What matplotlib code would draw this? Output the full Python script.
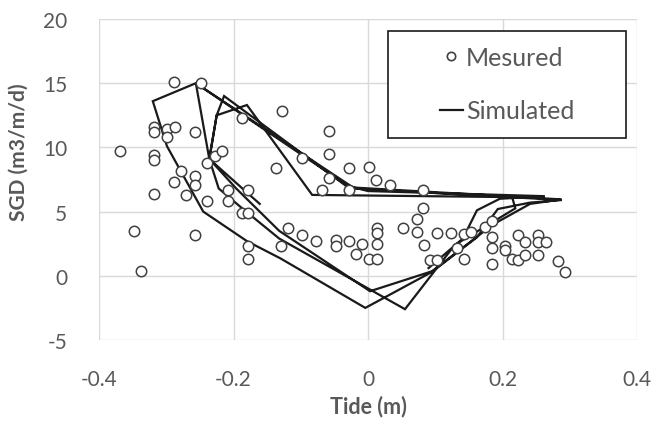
import matplotlib
matplotlib.use("Agg")
import matplotlib.pyplot as plt
from matplotlib.lines import Line2D
from matplotlib.patches import Rectangle

# Measured points (tide m, SGD m3/m/d)
meas_tide = [-0.288, -0.248, -0.318, -0.318, -0.299, -0.287, -0.299, -0.257, -0.369, -0.318,
             -0.318, -0.239, -0.227, -0.217, -0.278, -0.257, -0.257, -0.288, -0.137, -0.187,
             -0.318, -0.270, -0.208, -0.178, -0.239, -0.208, -0.187, -0.178, -0.348, -0.257,
             -0.178, -0.178, -0.338, -0.130, -0.128, -0.058, -0.058, -0.098, -0.028, 0.001,
             -0.058, 0.012, 0.033, -0.068, -0.028, 0.082, 0.082, 0.073, -0.119, -0.098,
             -0.077, -0.048, -0.048, -0.028, -0.009, -0.018, 0.001, 0.013, 0.013, 0.013,
             0.013, 0.052, 0.073, 0.083, 0.103, 0.123, 0.092, 0.103, 0.143, 0.153,
             0.132, 0.143, 0.174, 0.184, 0.184, 0.184, 0.184, 0.204, 0.204, 0.214,
             0.223, 0.223, 0.233, 0.233, 0.253, 0.253, 0.265, 0.253, 0.283, 0.293]
meas_sgd = [15.1, 15.0, 11.6, 11.2, 11.4, 11.6, 10.8, 11.2, 9.7, 9.4,
            9.0, 8.8, 9.3, 9.7, 8.2, 7.8, 7.1, 7.3, 8.4, 12.3,
            6.4, 6.3, 6.7, 6.7, 5.8, 5.8, 4.9, 4.9, 3.5, 3.2,
            2.3, 1.3, 0.35, 2.3, 12.8, 11.3, 9.5, 9.2, 8.4, 8.5,
            7.6, 7.5, 7.1, 6.65, 6.65, 6.7, 5.25, 4.4, 3.7, 3.15,
            2.7, 2.75, 2.3, 2.7, 2.45, 1.7, 1.3, 1.3, 3.7, 3.3,
            2.45, 3.7, 3.45, 2.4, 3.3, 3.3, 1.2, 1.2, 3.25, 3.45,
            2.2, 1.3, 3.8, 4.25, 3.0, 2.2, 0.9, 2.3, 2.0, 1.3,
            1.2, 3.2, 2.6, 1.6, 3.2, 2.6, 2.6, 1.6, 1.15, 0.3]

# Simulated path (tide m, SGD m3/m/d), in time order
sim_tide = [0.090, 0.141, 0.162, 0.196, 0.263,
            0.000, -0.030, -0.256, -0.320, -0.299, -0.245, -0.180, -0.130, -0.004,
            0.095, 0.162, 0.193, 0.241, 0.288,
            -0.020, -0.256, -0.236, -0.222, -0.187, -0.132, 0.055,
            0.129, 0.219, 0.214, 0.263,
            -0.083, -0.180, -0.225, -0.236, -0.196, -0.132, 0.003,
            0.095, 0.186, 0.241, 0.288,
            -0.030, -0.214, -0.225, -0.236, -0.161]
sim_sgd = [0.6, 2.9, 5.1, 6.0, 6.2,
           6.6, 7.0, 15.0, 13.6, 10.1, 5.0, 2.7, 1.35, -2.5,
           0.3, 3.0, 5.2, 5.7, 5.9,
           6.8, 15.0, 9.1, 6.8, 5.25, 2.9, -2.6,
           2.4, 5.25, 6.2, 6.1,
           6.3, 13.3, 12.5, 9.1, 6.8, 3.5, -1.2,
           0.35, 4.0, 5.6, 5.95,
           6.9, 14.0, 12.5, 9.1, 5.6]

x_ticks = [-0.4, -0.2, 0, 0.2, 0.4]
x_tick_labels = ["-0.4", "-0.2", "0", "0.2", "0.4"]
y_ticks = [-5, 0, 5, 10, 15, 20]
y_tick_labels = ["-5", "0", "5", "10", "15", "20"]

plt.rcParams['font.family'] = ['Lato', 'DejaVu Sans']
txt = '#595959'
W, H = 667, 427
fig = plt.figure(figsize=(W/100, H/100), dpi=100)
ax = fig.add_axes([99/W, 86/H, (637-99)/W, (341-20)/H])

ax.plot(sim_tide, sim_sgd, color='#1a1a1a', lw=1.6, zorder=2, solid_joinstyle='miter')
ax.plot(meas_tide, meas_sgd, linestyle='none', marker='o', markersize=7.5,
        markerfacecolor='white', markeredgecolor='#404040', markeredgewidth=1.1, zorder=3)

ax.set_xlim(-0.4, 0.4)
ax.set_ylim(-5, 20)
ax.set_xticks(x_ticks)
ax.set_xticklabels(x_tick_labels)
ax.set_yticks(y_ticks)
ax.set_yticklabels(y_tick_labels)
ax.grid(True, color='#d9d9d9', lw=1.0, zorder=0)
ax.set_axisbelow(True)
for s in ax.spines.values():
    s.set_visible(False)
ax.tick_params(length=0, labelsize=15, colors=txt)
ax.tick_params(axis='x', pad=21)
ax.tick_params(axis='y', pad=23)
fig.text(368/W, 1-407/H, 'Tide (m)', ha='center', va='center',
         fontsize=15.5, fontweight='bold', color=txt)
fig.text(19/W, 1-152/H, 'SGD (m3/m/d)', ha='center', va='center', rotation=90,
         fontsize=15, fontweight='bold', color=txt)

# legend box
box = Rectangle((388/W, 1-139/H), (626-388)/W, (139-32)/H, transform=fig.transFigure,
                facecolor='white', edgecolor='#1a1a1a', lw=1.2, zorder=4, clip_on=False)
ax.add_patch(box)
handles = [Line2D([], [], linestyle='none', marker='o', markersize=6, markerfacecolor='white',
                  markeredgecolor='#404040', markeredgewidth=1.2, label='Mesured'),
           Line2D([], [], color='#1a1a1a', lw=1.6, label='Simulated')]
leg = ax.legend(handles=handles, loc='center left', bbox_to_anchor=(440/W, 1-85/H),
                bbox_transform=fig.transFigure, fontsize=18, frameon=False,
                handlelength=0.9, handletextpad=0.15, borderpad=0.0,
                labelspacing=1.22, labelcolor=txt, borderaxespad=0)
leg.set_zorder(5)

fig.savefig('out.png', dpi=100, facecolor='white')
